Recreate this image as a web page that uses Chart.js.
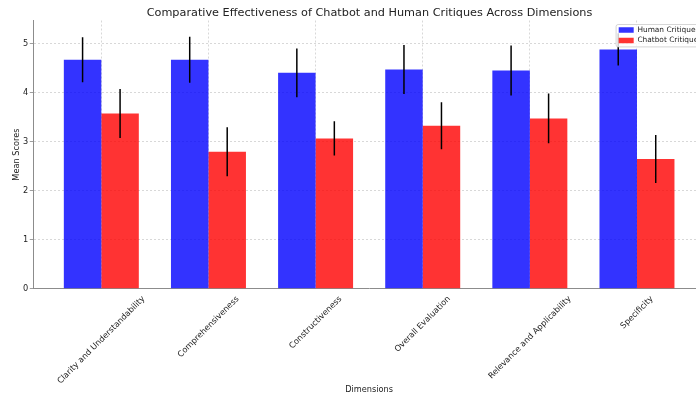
<!DOCTYPE html>
<html><head><meta charset="utf-8">
<script src="https://cdn.jsdelivr.net/npm/chart.js@4/dist/chart.umd.min.js"></script>
<style>
html,body{margin:0;padding:0;overflow:hidden;background:#fff;width:696px;height:398px}
#wrap{position:absolute;left:0;top:0;width:739px;height:398px}
canvas{display:block}
</style>
</head><body><div id="wrap"><canvas id="c" width="739" height="398"></canvas></div>
<script>
const categories = ['Clarity and Understandability','Comprehensiveness','Constructiveness','Overall Evaluation','Relevance and Applicability','Specificity'];
const seriesNames = ['Human Critiques','Chatbot Critiques'];
const humanMeans = [4.68, 4.68, 4.41, 4.48, 4.46, 4.89];
const humanErr   = [0.46, 0.47, 0.50, 0.50, 0.51, 0.33];
const chatbotMeans = [3.58, 2.80, 3.07, 3.33, 3.48, 2.65];
const chatbotErr   = [0.50, 0.50, 0.35, 0.48, 0.51, 0.49];
const yTicks = [0, 1, 2, 3, 4, 5];
const titleText = 'Comparative Effectiveness of Chatbot and Human Critiques Across Dimensions';
const xTitle = 'Dimensions';
const yTitle = 'Mean Scores';

const GROUP = 0.7;            // share of a category taken by the bar pair
const SHIFT = GROUP / 4;      // offset of each bar centre from the category centre
const TXT = '#222';
const GRID = '#cfcfcf';
const SPINE = '#8c8c8c';
const RIGHT_GAP = 34;         // room right of the axes (part of it off-screen)

function barData(means){ return means.map((v,i)=>({x:i, y:v})); }
function errData(means, errs, shift){
  const pts = [];
  means.forEach((m,i)=>{
    pts.push({x:i+shift, y:m-errs[i]}, {x:i+shift, y:m+errs[i]}, {x:i+shift, y:null});
  });
  return pts;
}

const legendInside = {
  id: 'legendInside',
  afterInit(chart){
    const L = chart.legend;
    if (!L) return;
    const fit = L.fit;
    L.fit = function(){ fit.call(this); this._fw = this.width; this._fh = this.height; this.width = RIGHT_GAP; this.height = 0; };
    L._layers = function(){
      const self = this;
      return [{ z: 5, draw(area){
        const ctx = self.ctx;
        ctx.save();
        ctx.beginPath();
        const x = self.left + 0.5, y = self.top + 1.4, w = 200, h = 22.4;
        if (ctx.roundRect) ctx.roundRect(x, y, w, h, 2); else ctx.rect(x, y, w, h);
        ctx.fillStyle = 'rgba(255,255,255,0.8)';
        ctx.fill();
        ctx.lineWidth = 0.8;
        ctx.strokeStyle = '#cccccc';
        ctx.stroke();
        ctx.restore();
        self.draw(area);
      }}];
    };
  },
  afterLayout(chart){
    const L = chart.legend; const a = chart.chartArea;
    if (!L) return;
    L.left = a.right - 89.4; L.top = a.top + 2.6;
    L.width = L._fw || 120; L.height = L._fh || 60;
    L.right = L.left + L.width; L.bottom = L.top + L.height;
  }
};

const centerRotatedTicks = {
  id: 'centerRotatedTicks',
  beforeDraw(chart){
    const sc = chart.scales.x;
    const items = sc.getLabelItems();
    const ctx = chart.ctx;
    const s = Math.SQRT1_2;
    items.forEach((it, i)=>{
      ctx.save(); ctx.font = it.font.string; const w = ctx.measureText(it.label).width; ctx.restore();
      const h = it.font.size * 1.15;
      const H = (w + h) * s;
      it.options.translation = [sc.getPixelForTick(i), sc.top + 5.6 + H/2];
      it.options.textAlign = 'center';
      it.options.textBaseline = 'middle';
      it.textOffset = 0;
    });
  }
};

new Chart(document.getElementById('c'), {
  type: 'bar',
  data: {
    datasets: [
      { label: seriesNames[0], data: barData(humanMeans), backgroundColor: 'rgba(0,0,255,0.8)', borderWidth: 0,
        categoryPercentage: GROUP, barPercentage: 1.0, order: 2 },
      { label: seriesNames[1], data: barData(chatbotMeans), backgroundColor: 'rgba(255,0,0,0.8)', borderWidth: 0,
        categoryPercentage: GROUP, barPercentage: 1.0, order: 2 },
      { type: 'line', label: 'err-h', data: errData(humanMeans, humanErr, -SHIFT), borderColor: '#000', borderWidth: 1.5,
        pointRadius: 0, spanGaps: false, fill: false, order: 0 },
      { type: 'line', label: 'err-c', data: errData(chatbotMeans, chatbotErr, SHIFT), borderColor: '#000', borderWidth: 1.5,
        pointRadius: 0, spanGaps: false, fill: false, order: 0 }
    ]
  },
  options: {
    responsive: false,
    animation: false,
    devicePixelRatio: 1,
    layout: { padding: 0 },
    plugins: {
      title: { display: true, text: titleText, color: TXT,
        font: { family: 'DejaVu Sans', size: 11.25, weight: 'normal' }, padding: { top: 6.6, bottom: 0.4 } },
      legend: { display: true, position: 'right', align: 'start',
        labels: { filter: (item) => item.datasetIndex < 2, boxWidth: 15, boxHeight: 5.5, padding: 3.1, color: TXT,
          font: { family: 'DejaVu Sans', size: 7.4 } } },
      tooltip: { enabled: false }
    },
    scales: {
      x: {
        type: 'linear', min: -0.635, max: categories.length - 1 + 0.635, offset: false,
        afterBuildTicks: (axis) => { axis.ticks = categories.map((_, i) => ({ value: i })); },
        afterFit: (axis) => { axis.height = 109.3; axis.paddingLeft = 0; axis.paddingRight = 0; axis.paddingTop = 0; axis.paddingBottom = 0; },
        ticks: { autoSkip: false, maxRotation: 45, minRotation: 45, color: TXT,
          font: { family: 'DejaVu Sans', size: 8.2 }, callback: (v, i) => categories[i] },
        grid: { offset: false, color: GRID, lineWidth: 0.8, drawTicks: false },
        border: { display: true, color: SPINE, width: 1, dash: [2, 2] },
        title: { display: true, text: xTitle, color: TXT, font: { family: 'DejaVu Sans', size: 8.2 }, padding: { top: 0, bottom: 3.1 } }
      },
      y: {
        min: 0, max: 5.48,
        afterBuildTicks: (axis) => { axis.ticks = yTicks.map(v => ({ value: v })); },
        afterFit: (axis) => { axis.width = 33.3; axis.paddingTop = 0; axis.paddingBottom = 0; },
        ticks: { color: TXT, font: { family: 'DejaVu Sans', size: 8.2 }, padding: 1.5 },
        grid: { color: GRID, lineWidth: 0.8, tickColor: SPINE, tickLength: 3.5, tickBorderDash: [1, 0], tickWidth: 1 },
        border: { display: true, color: SPINE, width: 1, dash: [2, 2] },
        title: { display: true, text: yTitle, color: TXT, font: { family: 'DejaVu Sans', size: 8.2 }, padding: { top: 11.8, bottom: 0 } }
      }
    }
  },
  plugins: [legendInside, centerRotatedTicks]
});
</script>
</body></html>
